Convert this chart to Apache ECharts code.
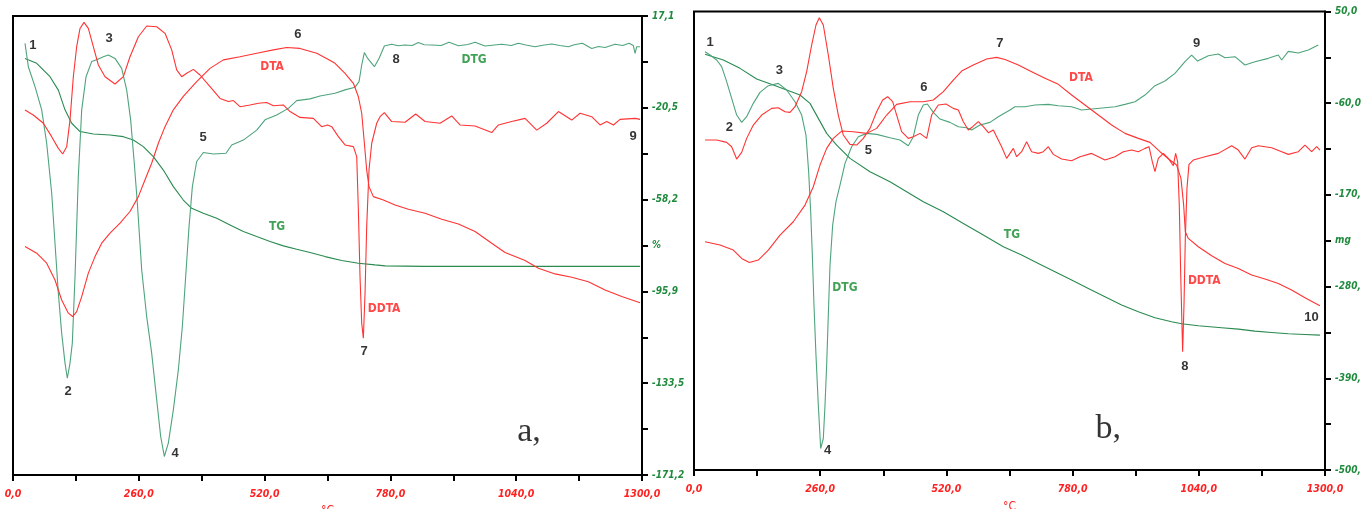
<!DOCTYPE html>
<html><head><meta charset="utf-8">
<script src="https://cdn.jsdelivr.net/npm/echarts@6/dist/echarts.min.js"></script>
<style>html,body{margin:0;padding:0;background:#fff}#c{width:1361px;height:509px}</style>
</head><body><div id="c"></div><script>
// ---------- Panel a (y unit: %) ----------
const aDTG = [[24.8,5.9],[31.7,-3.7],[45.5,-11.9],[59.3,-21.4],[69.6,-35.1],[80,-55.6],[86.8,-76.1],[93.7,-96.6],[100.6,-113],[107.5,-125.3],[112.3,-131.5],[117.8,-125.3],[122.6,-117.1],[128.2,-89.8],[135,-48.8],[142,-21.4],[151,-7.8],[162.6,-1.6],[174.3,-0.7],[186.7,0.4],[197,1.1],[210.8,-0.3],[224.6,-4.4],[235,-13.3],[243.2,-25.6],[250.1,-41.9],[257,-59.7],[266,-87.1],[276.3,-106.2],[286.6,-121.2],[297,-140.4],[305.2,-155.4],[312.8,-163.6],[321,-158.1],[331.4,-144.5],[341.7,-128.1],[350,-110.3],[356.9,-89.8],[363.8,-69.3],[370.7,-52.9],[379.6,-42.6],[393.4,-38.9],[414.1,-39.5],[440.3,-39.2],[452,-35.8],[476,-33.8],[503.7,-29.7],[520.9,-25.5],[545,-23.5],[569.1,-20.8],[586.3,-17.6],[613.9,-16.9],[634.6,-15.7],[665.6,-14.6],[686.2,-13.2],[706.9,-12.1],[715.2,-9.8],[720.7,-3.0],[726.2,2.1],[733.1,-0.3],[746.9,-3.7],[756.5,-0.3],[767.5,4.8],[782.7,5.5],[796,4.9],[810.3,5.2],[825,5.0],[837.8,6.2],[850,5.3],[865.4,5.2],[885,5.0],[901.2,6.3],[920.5,4.9],[940,5.4],[955,6.3],[975.6,4.8],[995,5.2],[1010,5.5],[1030,5.0],[1044.5,5.9],[1060,5.2],[1079,4.5],[1095,5.1],[1113.4,5.6],[1130,5.0],[1147.9,4.5],[1160,5.3],[1176.8,5.9],[1196.1,3.8],[1210,4.6],[1223.7,4.2],[1244.3,5.5],[1260,5.0],[1273.3,5.9],[1282,5.0],[1285.7,1.8],[1289.1,4.5],[1296,4.5]];
const aTG = [[24.8,-0.3],[49,-2.3],[76.5,-7.8],[93.7,-13.3],[107.5,-21.4],[121.3,-26.9],[138.5,-30.3],[166,-31.3],[200.5,-31.7],[228.1,-32.4],[248.7,-33.8],[269.4,-36.5],[290.1,-40.6],[310.7,-46.1],[331.4,-52.9],[352,-58.4],[369.3,-61.8],[393.4,-63.8],[421,-65.9],[448.5,-68.6],[476.1,-71.3],[503.7,-73.4],[531.2,-75.4],[558.8,-77.2],[586.3,-78.6],[613.9,-79.9],[644.9,-81.6],[679.4,-83.2],[713.8,-84.3],[748.3,-85],[769,-85.4],[850,-85.6],[1000,-85.6],[1296,-85.6]];
const aDTA = [[24.8,-77.5],[49,-80.2],[69.6,-84.3],[86.8,-91.2],[100.6,-99.4],[114.4,-104.8],[123.3,-106.2],[131.6,-104.2],[142,-98],[155.7,-88.4],[169.5,-81.6],[183.3,-76.1],[200.5,-72],[221.2,-67.9],[241.8,-63.1],[259.1,-57],[272.9,-50.1],[286.6,-43.3],[300.4,-35.1],[314.2,-28.3],[331.4,-21.4],[352,-15.9],[379.6,-9.8],[407.2,-4.4],[434.8,-0.9],[469.2,0.4],[503.7,1.8],[538.1,3.2],[565.7,4.2],[593.2,3.8],[627.7,1.8],[650,-0.5],[665.6,-2.3],[686.2,-6.4],[703.5,-10.5],[713.8,-16],[720.7,-22.8],[726.2,-35.1],[731,-46.1],[735.8,-52.9],[744.8,-57],[765.5,-58.4],[789.6,-60.4],[817.2,-62.2],[851.6,-63.8],[886.1,-66.3],[920.5,-68.2],[955,-71.3],[989.4,-76.1],[1017,-79.9],[1058.3,-83.2],[1085.9,-86.4],[1120.3,-88.7],[1154.8,-90.1],[1189.2,-91.9],[1223.7,-95.3],[1258.1,-98],[1296,-100.5]];
const aDDTA = [[24.8,-21.5],[42,-23.5],[62.7,-26.9],[79.9,-32.4],[93.7,-37.2],[102.7,-39.5],[111,-36.5],[117.8,-25.6],[124.7,-7.8],[131.6,4.5],[138.5,12],[146.8,14.5],[155.7,12],[166,4.5],[176.4,-3],[190.2,-7.8],[210.8,-10.8],[228.1,-7.8],[241.8,0.4],[259.1,8.6],[276.3,13],[297,12.7],[314.2,10],[328,3.2],[338.3,-5.0],[348.6,-7.8],[358.9,-6.4],[372.8,-4.8],[386.5,-7.1],[407.2,-11.9],[427.9,-16.7],[445.1,-18],[455.4,-17.6],[469.2,-20.1],[489.9,-19.4],[507.1,-18.7],[524.3,-18.4],[538.1,-19.7],[558.8,-19.4],[572.6,-22.1],[593.2,-24.5],[620.8,-24.9],[637.9,-28.3],[650,-27.6],[658.7,-28.3],[672.5,-32.4],[686.2,-35.8],[703.5,-36.5],[710.4,-40.6],[713.8,-62.5],[717.2,-89.8],[720.7,-108.9],[724.1,-115.1],[727.6,-96.6],[731,-69.3],[735.8,-46.1],[741.4,-35.1],[751.7,-26.9],[758.6,-24.2],[767.5,-22.5],[782.7,-26.2],[810.3,-26.5],[832.3,-23.1],[851.6,-26.2],[882.6,-26.9],[906.7,-23.9],[923.9,-27.6],[955,-28],[989.4,-30.7],[1003.2,-27.6],[1030.7,-26.2],[1058.3,-24.9],[1082.4,-29.7],[1103.1,-26.9],[1127.2,-22.1],[1154.8,-25.6],[1172,-22.8],[1196.1,-24.2],[1213.3,-27.6],[1227.1,-26.2],[1240.9,-27.6],[1254.7,-25.3],[1285.7,-24.9],[1296,-25.3]];
const aYTicks = [17.1,-1.73,-20.56,-39.39,-58.22,-77.05,-95.88,-114.71,-133.54,-152.37,-171.2];
const aYLabelVals = [17.1,-20.56,-58.22,-77.05,-95.88,-133.54,-171.2];
const aYLabels = ["17,1","-20,5","-58,2","%","-95,9","-133,5","-171,2"];
const aNotes = [["1",41.3,5.2,"#000"],["2",113.7,-137.1,"#000"],["3",198.4,7.7,"#000"],["4",334.9,-162.2,"#000"],["5",392.7,-32.9,"#000"],["6",589,9.7,"#000"],["7",725.5,-120.7,"#000"],["8",791.7,-0.9,"#000"],["9",1281.5,-32.1,"#000"],["DTA",535.4,-3.8,"#ff1a1a"],["TG",545.7,-69.5,"#118a2a"],["DTG",952.9,-0.9,"#118a2a"],["DDTA",766.9,-103.1,"#ff1a1a"]];
const aTag = ["a,",1066.6,-153.5];

// ---------- Panel b (y unit: mg) ----------
const bDTG = [[22.7,1.8],[33,-2.2],[46.7,-8.2],[57,-16.2],[67.3,-34.2],[77.6,-54.2],[87.9,-74.2],[98.2,-83],[108.5,-76.2],[122.2,-60.2],[136,-47],[153.1,-39],[173.7,-36.2],[190.9,-44.2],[208.1,-58.2],[221.8,-74.2],[230.7,-98.2],[236.2,-142.2],[240.4,-190.2],[243.8,-242.2],[247.2,-302.2],[251.3,-362.2],[256.1,-422.2],[261,-474.2],[266.4,-462.2],[269.9,-422.2],[273.3,-374.2],[276.7,-314.2],[280.2,-254.2],[285.7,-206.2],[292.5,-178.2],[300.8,-158.2],[311.1,-132.2],[324.8,-112.2],[338.5,-100.2],[355.7,-96.2],[376.3,-97.4],[403.8,-101.4],[424.4,-104.2],[441.5,-111],[451.8,-100.2],[462.1,-74.2],[472.4,-62.2],[480.7,-61],[493.1,-71],[506.8,-79],[527.4,-83],[544.6,-88.2],[561.7,-89.4],[572,-92.2],[589.2,-86.2],[609.8,-83],[626.9,-76.2],[651,-68.2],[661.3,-64.2],[681.9,-64.2],[702.5,-62.2],[730,-61.4],[750.6,-63],[778,-64.2],[798.6,-68.2],[819.2,-67],[846.7,-65.4],[867.3,-64.2],[887.9,-61.4],[908.5,-58.2],[929.1,-50.2],[949.7,-39],[970.3,-33.4],[990.9,-24.2],[1011.5,-10.2],[1025.2,-2.2],[1037.6,-9.4],[1059.6,-3],[1080.2,-1],[1093.9,-5.4],[1114.5,-4.2],[1135.1,-14.2],[1155.7,-10.2],[1183.2,-6.2],[1203.8,-2.2],[1210.7,-8.2],[1224.4,2.2],[1245,0.2],[1265.6,3.8],[1286.2,9.8]];
const bTG = [[22.7,-1.4],[60.4,-8.2],[94.8,-18.2],[129.1,-31],[163.4,-38.2],[190.9,-44.2],[218.4,-50.2],[239,-60.2],[256.1,-78.2],[273.3,-96.2],[293.9,-110.2],[321.4,-126.2],[362.6,-142.2],[403.8,-154.2],[438.1,-166.2],[472.4,-178.2],[513.7,-190.2],[554.9,-204.2],[596.1,-218.2],[637.3,-232.2],[675,-242.2],[709.4,-252.2],[743.7,-262.2],[778,-272.2],[812.4,-282.2],[846.7,-292.2],[881,-302.2],[915.4,-310.2],[949.7,-317.4],[984,-322.2],[1004.6,-324.6],[1039,-327],[1087,-329.4],[1121.4,-331],[1155.7,-333.4],[1190.1,-335],[1224.4,-336.6],[1258.7,-337.4],[1289.6,-338.2]];
const bDTA = [[22.7,-226.2],[53.6,-230.2],[81,-236.2],[98.2,-246.2],[114,-251],[132.5,-248.2],[153.1,-236.2],[177.2,-218.2],[204.6,-202.2],[228.7,-182.2],[245.8,-160.2],[259.6,-134.2],[273.3,-114.2],[287,-102.2],[304.2,-93.4],[328.2,-94.2],[355.7,-96.2],[376.3,-90.2],[396.9,-74.2],[417.5,-61.4],[444.9,-58.2],[472.4,-58.2],[493.1,-56.2],[513.7,-46.2],[534.2,-32.2],[551.4,-21.4],[575.4,-14.2],[602.9,-7],[623.5,-5],[640.7,-7.5],[668.2,-14.2],[695.6,-22.2],[723.1,-30.2],[750.6,-37.4],[778,-50.2],[805.5,-62.2],[833,-74.2],[860.4,-86.2],[887.9,-96.2],[915.4,-102.2],[939.4,-107],[960,-118.2],[980.6,-128.2],[994.3,-134.2],[1003.3,-150.2],[1008.8,-182.2],[1012.2,-214.2],[1018.4,-222.2],[1039,-232.2],[1066.5,-243],[1093.9,-252.2],[1121.4,-258.2],[1148.9,-266.2],[1176.3,-271],[1203.8,-276.2],[1231.2,-284.2],[1258.7,-293.4],[1289.6,-303]];
const bDDTA = [[22.7,-104.2],[46.7,-104.2],[67.3,-107],[77.6,-112.2],[87.9,-127],[98.2,-119],[108.5,-102.2],[122.2,-86.2],[139.4,-74.2],[160,-66.2],[173.7,-65.4],[187.5,-70.2],[197.8,-71],[208.1,-64.2],[221.8,-46.2],[232.1,-22.2],[242.4,9.8],[251.3,33.8],[258.2,42.6],[266.4,33.8],[276.7,-2.2],[287,-42.2],[297.3,-74.2],[307.6,-98.2],[321.4,-109.4],[335.1,-110.2],[348.8,-102.2],[362.6,-90.2],[376.3,-70.2],[388.7,-56.2],[399,-52.2],[409.3,-58.2],[417.5,-74.2],[427.8,-94.2],[441.5,-102.2],[451.8,-100.2],[465.6,-96.2],[479.3,-102.2],[489.6,-74.2],[503.3,-62.2],[519.1,-61],[534.2,-66.2],[544.6,-68.2],[554.9,-82.2],[565.2,-92.2],[574.1,-88.2],[585.8,-82.2],[596.1,-88.2],[606.4,-95.4],[616.7,-92.2],[623.5,-100.2],[633.8,-112.2],[644.1,-126.2],[647.6,-128.2],[657.9,-114.2],[664.7,-124.2],[675,-118.2],[685.3,-106.2],[695.6,-118.2],[709.4,-120.2],[719.7,-118.2],[730,-112.2],[740.3,-121.4],[757.4,-127],[778,-129],[795.2,-124.2],[819.2,-120.2],[846.7,-128.2],[867.3,-124.2],[884.5,-118.2],[901.6,-116.2],[915.4,-118.2],[929.1,-114.2],[937.4,-112.2],[944.2,-130.2],[949.7,-142.2],[956.6,-126.2],[966.9,-120.2],[977.2,-126.2],[987.5,-135],[992.3,-120.2],[996.4,-130.2],[999.8,-182.2],[1002.6,-262.2],[1006.7,-358.2],[1009.5,-302.2],[1012.2,-222.2],[1015.6,-162.2],[1019.8,-133.4],[1028.7,-128.2],[1052.7,-124.2],[1080.2,-120.2],[1107.7,-111],[1121.4,-116.2],[1135.1,-127],[1148.9,-113.4],[1162.6,-111],[1190.1,-113.4],[1210.7,-118.2],[1224.4,-121.4],[1245,-118.2],[1258.7,-110.2],[1272.5,-118.2],[1282.8,-112.2],[1289.6,-116.2]];
const bYTicks = [50,-5,-60,-115,-170,-225,-280,-335,-390,-445,-500];
const bYLabelVals = [50,-60,-170,-225,-280,-390,-500];
const bYLabels = ["50,0","-60,0","-170,0","mg","-280,0","-390,0","-500,0"];
const bNotes = [["1",33,13,"#000"],["2",72.7,-89.4,"#000"],["3",175.8,-20.2,"#000"],["4",275.4,-476.2,"#000"],["5",359.1,-116.2,"#000"],["6",473.8,-41.4,"#000"],["7",630.4,11.8,"#000"],["8",1011.5,-376.2,"#000"],["9",1035.5,11.8,"#000"],["10",1272.4,-317,"#000"],["DTA",797.2,-29.4,"#ff1a1a"],["TG",655,-218.2,"#118a2a"],["DTG",311,-281.6,"#118a2a"],["DDTA",1051.2,-273.4,"#ff1a1a"]];
const bTag = ["b,",853.5,-451];

const X_TICKS_MIN = 0, X_TICKS_MAX = 1300, X_TICK_STEP = 130;

const RED = '#ff3333', TGC = '#2a8a50', DTGC = '#4ea47c';
const NARROW = '"Liberation Sans Narrow","DejaVu Sans Condensed","Liberation Sans",sans-serif';

function nearestLabel(vals, labels, v){
  let bi = 0, bd = Infinity;
  vals.forEach((x,i)=>{ const d = Math.abs(x-v); if (d<bd){bd=d;bi=i;} });
  return bd < 1 ? labels[bi] : '';
}
function xAxisFor(gi, nameGap){
  return {
    gridIndex: gi, type: 'value', min: X_TICKS_MIN, max: X_TICKS_MAX, interval: X_TICK_STEP,
    axisLine: {show: true, onZero: false, lineStyle: {color: '#000', width: 2}},
    axisTick: {show: true, length: 6, lineStyle: {color: '#000', width: 2}},
    axisLabel: {margin: 14, color: '#ff2020', fontStyle: 'italic', fontWeight: 'bold', fontSize: 10.5, fontFamily: NARROW,
      formatter: v => (Math.round(v) % 260 === 0) ? v.toFixed(1).replace('.', ',') : ''},
    splitLine: {show: false},
    name: '°C', nameLocation: 'middle', nameGap: nameGap,
    nameTextStyle: {color: '#ff2020', fontSize: 12, fontFamily: NARROW}
  };
}
function yAxisFor(gi, min, max, ticks, labVals, labs){
  return {
    gridIndex: gi, type: 'value', position: 'right', min: min, max: max,
    axisLine: {show: true, onZero: false, lineStyle: {color: '#000', width: 2}},
    axisTick: {show: true, length: 6, customValues: ticks, lineStyle: {color: '#000', width: 2}},
    axisLabel: {show: true, margin: 10, customValues: labVals, color: '#1f8a3c', fontStyle: 'italic', fontWeight: 'bold', fontSize: 10, fontFamily: NARROW,
      formatter: v => nearestLabel(labVals, labs, v)},
    splitLine: {show: false}
  };
}
function lineSeries(gi, data, color, z){
  return {type: 'line', xAxisIndex: gi, yAxisIndex: gi, data: data, showSymbol: false, symbol: 'none',
    lineStyle: {color: color, width: 1.1}, clip: true, z: z || 2, animation: false};
}
function noteSeries(gi, notes, tag){
  const data = notes.map(n => ({value: [n[1], n[2]], name: n[0],
    label: {color: n[3], fontSize: n[3] === '#000' ? 13 : 12, fontWeight: 'bold',
      fontFamily: n[3] === '#000' ? '"Liberation Sans",Arial,sans-serif' : NARROW}}));
  data.push({value: [tag[1], tag[2]], name: tag[0],
    label: {color: '#000', fontSize: 34, fontWeight: 'normal', fontFamily: '"Liberation Serif","Times New Roman",serif'}});
  return {type: 'scatter', xAxisIndex: gi, yAxisIndex: gi, data: data, symbolSize: 1,
    itemStyle: {color: 'rgba(0,0,0,0)'}, silent: true, animation: false, z: 5,
    label: {show: true, position: 'inside', formatter: p => p.name}};
}

const chart = echarts.init(document.getElementById('c'), null, {renderer: 'canvas'});
chart.setOption({
  backgroundColor: '#fff',
  animation: false,
  grid: [
    {left: 13, top: 16, width: 629, height: 459, show: true, borderColor: '#000', borderWidth: 2, outerBoundsMode: 'none', containLabel: false},
    {left: 694, top: 11.5, width: 631, height: 458.5, show: true, borderColor: '#000', borderWidth: 2, outerBoundsMode: 'none', containLabel: false}
  ],
  xAxis: [xAxisFor(0, 30), xAxisFor(1, 31)],
  yAxis: [yAxisFor(0, -171.2, 17.1, aYTicks, aYLabelVals, aYLabels), yAxisFor(1, -500, 50, bYTicks, bYLabelVals, bYLabels)],
  series: [
    lineSeries(0, aTG, TGC), lineSeries(0, aDTG, DTGC), lineSeries(0, aDTA, RED, 3), lineSeries(0, aDDTA, RED, 3),
    noteSeries(0, aNotes, aTag),
    lineSeries(1, bTG, TGC), lineSeries(1, bDTG, DTGC), lineSeries(1, bDTA, RED, 3), lineSeries(1, bDDTA, RED, 3),
    noteSeries(1, bNotes, bTag)
  ]
});
</script></body></html>
